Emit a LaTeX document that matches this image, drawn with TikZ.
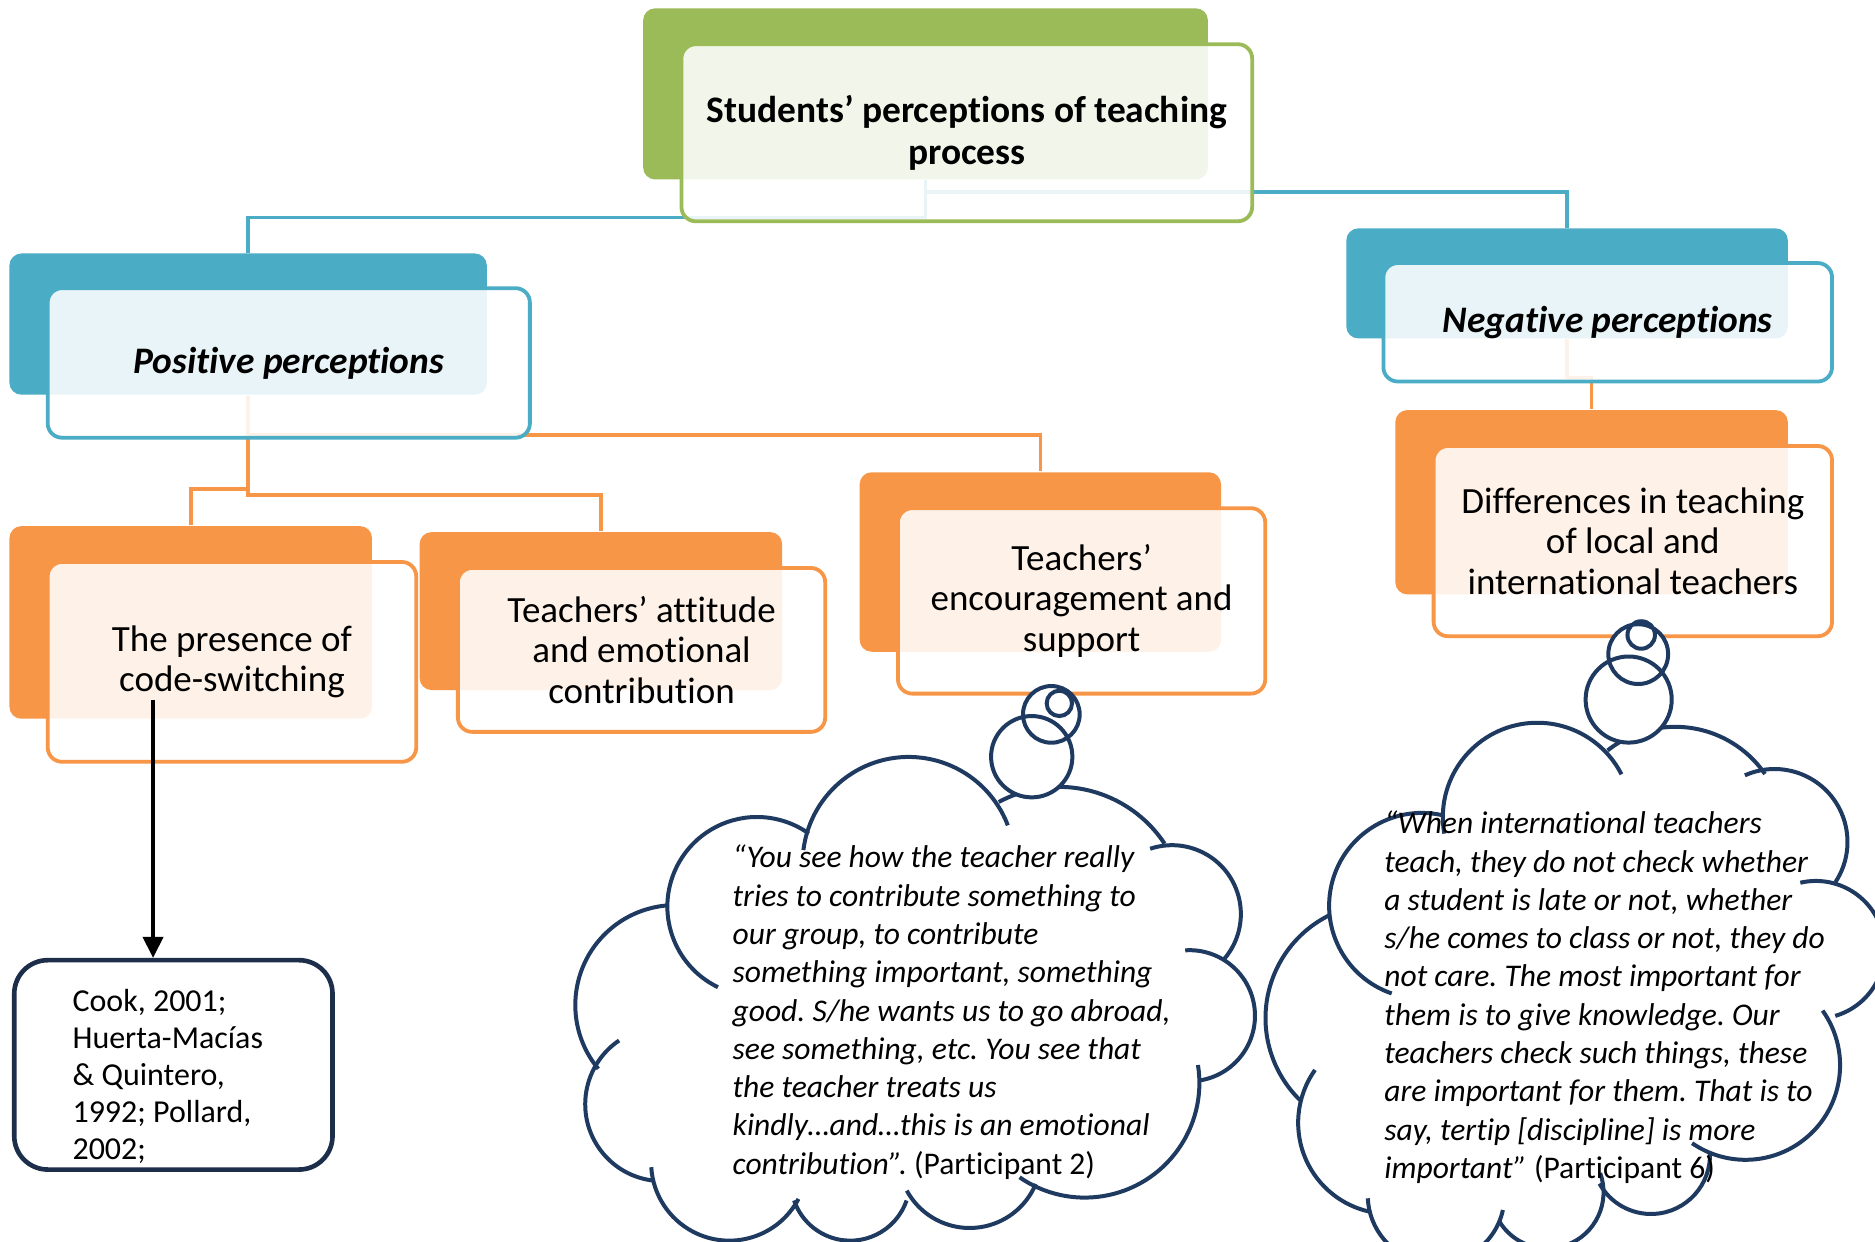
\documentclass[tikz,border=0pt]{standalone}
\usepackage{fontspec}
\setmainfont{Carlito}[Ligatures=NoCommon]
\usetikzlibrary{arrows.meta}
\definecolor{cgreen}{HTML}{9BBB59}
\definecolor{cblue}{HTML}{4BACC6}
\definecolor{corange}{HTML}{F79646}
\definecolor{cnavy}{HTML}{1F3A60}
\definecolor{cdark}{HTML}{1C2E4A}
\pgfdeclarelayer{bg}
\pgfsetlayers{bg,main}
\newcommand\puff[4]{\draw[cloudline] ([shift={(#3:#2)}]#1) arc[start angle=#3,end angle=#4,radius=#2];}
\frenchspacing
\begin{document}
\begin{tikzpicture}[x=0.01cm,y=-0.01cm,
  back/.style={rectangle, rounded corners=0.1cm, fill=#1, draw=none, inner sep=0pt},
  front/.style={rectangle, rounded corners=0.12cm, draw=#1, line width=0.9pt, fill=white, fill opacity=0.88, text opacity=1, inner sep=0pt, align=center, font=\fontsize{8.8pt}{9.7pt}\selectfont},
  link/.style={draw=#1, line width=0.85pt},
  cloudline/.style={draw=cnavy, line width=0.95pt},
  quote/.style={align=left, inner sep=0pt, font=\fontsize{7.5pt}{9.1pt}\selectfont\itshape},
]
\clip (0,0) rectangle (1568,1038);

% back boxes
\node[back=cgreen, minimum width=4.72cm, minimum height=1.43cm] (topb) at (774,78.5) {};
\node[back=cblue, minimum width=3.99cm, minimum height=1.18cm] (posb) at (207.5,271) {};
\node[back=cblue, minimum width=3.69cm, minimum height=0.92cm] (negb) at (1310.5,237) {};
\node[back=corange, minimum width=3.03cm, minimum height=1.61cm] (preb) at (159.5,520.5) {};
\node[back=corange, minimum width=3.03cm, minimum height=1.32cm] (attb) at (502.5,511) {};
\node[back=corange, minimum width=3.02cm, minimum height=1.50cm] (encb) at (870,470) {};
\node[back=corange, minimum width=3.28cm, minimum height=1.54cm] (difb) at (1331,420) {};

% background and connectors (behind)
\begin{pgfonlayer}{bg}
\fill[white] (0,0) rectangle (1568,1038);
\draw[link=cblue] (topb.south) -- ++(0,31) -| (posb.north);
\draw[link=cblue] (topb.south) -- ++(0,10) -| (negb.north);
\draw[link=corange] (posb.south) -- ++(0,78) -| (preb.north);
\draw[link=corange] (posb.south) -- ++(0,83) -| (attb.north);
\draw[link=corange] (posb.south) -- ++(0,33) -| (encb.north);
\draw[link=corange] (negb.south) -- ++(0,32) -| (difb.north);
\end{pgfonlayer}

% front boxes
\node[front=cgreen, minimum width=4.77cm, minimum height=1.48cm, font=\fontsize{8.9pt}{9.96pt}\selectfont\bfseries] (topf) at (808.5,111) {Students’ perceptions of teaching\\process};
\node[front=cblue, minimum width=4.03cm, minimum height=1.25cm, font=\fontsize{8.9pt}{9.96pt}\selectfont\bfseries\itshape] (posf) at (241.5,303.5) {Positive perceptions};
\node[front=cblue, minimum width=3.75cm, minimum height=0.99cm, font=\fontsize{8.9pt}{9.96pt}\selectfont\bfseries\itshape] (negf) at (1344.5,269.5) {Negative perceptions};
\node[front=corange, minimum width=3.08cm, minimum height=1.67cm] (pref) at (194,553.5) {The presence of\\code-switching};
\node[front=corange, minimum width=3.07cm, minimum height=1.37cm] (attf) at (536.5,543.5) {Teachers’ attitude\\and emotional\\contribution};
\node[front=corange, minimum width=3.07cm, minimum height=1.55cm] (encf) at (904.5,502.5) {Teachers’\\encouragement and\\support};
\node[front=corange, minimum width=3.33cm, minimum height=1.59cm] (diff) at (1365.5,452.5) {Differences in teaching\\of local and\\international teachers};

% citation box and arrow
\node[draw=cdark, line width=1.1pt, rounded corners=0.28cm, minimum width=2.66cm, minimum height=1.75cm, inner sep=0pt] (cite) at (145,890.5) {};
\node[anchor=west, align=left, inner sep=0pt, font=\fontsize{7.6pt}{8.8pt}\selectfont] (citetext) at (60,900.5) {Cook, 2001;\\Huerta-Macías\\\& Quintero,\\1992; Pollard,\\2002;};
\coordinate (arrs) at (128,585);
\draw[line width=0.85pt, -{Triangle[width=4.8pt,length=5pt]}] (arrs) -- (arrs |- cite.north);

% cloud 1
\puff{759.9,721.7}{88.7}{187}{339.2}
\puff{885.5,764.0}{106}{241.7}{326.5}
\puff{980.1,764.4}{57.6}{251.5}{400.4}
\puff{994.7,849.4}{54.8}{266.3}{441.5}
\puff{907.1,905.6}{95.9}{-9}{124.6}
\puff{810.9,967.0}{59.9}{22.7}{151.4}
\puff{711.1,987.8}{49.7}{18.9}{161.1}
\puff{609.9,972.1}{65.4}{27.8}{176.5}
\puff{553.7,923.4}{64.3}{96.4}{236}
\puff{564.7,840.5}{83.6}{140.4}{265.5}
\puff{633,758.1}{74.9}{115.8}{305.4}
\fill[white] (862.8,632.8) circle[radius=34] (879.2,597.4) circle[radius=23.7] (885.9,588.2) circle[radius=10.6];
\draw[cloudline] (862.8,632.8) circle[radius=34] (879.2,597.4) circle[radius=23.7] (885.9,588.2) circle[radius=10.6];

% cloud 2
\puff{1285.6,683.4}{79}{170}{333}
\puff{1401.0,698.8}{91}{231.5}{325.5}
\puff{1484.0,704.1}{61}{246}{393.5}
\puff{1518.5,794.3}{57.6}{257}{433.6}
\puff{1459.8,890.9}{79}{-35.4}{124.5}
\puff{1380.7,965.9}{49.3}{-3}{151}
\puff{1294,997}{47}{-20}{150}
\puff{1201,999.5}{57.2}{12.5}{177.4}
\puff{1161.8,938.9}{76.2}{215.4}{102.2}
\puff{1154.3,851.4}{96}{244}{134.4}
\puff{1189.1,757.4}{77.6}{282.3}{109}
\fill[white] (1362,585) circle[radius=36] (1370,547) circle[radius=25] (1372.5,531) circle[radius=11.5];
\draw[cloudline] (1362,585) circle[radius=36] (1370,547) circle[radius=25] (1372.5,531) circle[radius=11.5];

% quotes
\node[quote, anchor=west] (q1) at (612,846.5) {“You see how the teacher really\\tries to contribute something to\\our group, to contribute\\something important, something\\good. S/he wants us to go abroad,\\see something, etc. You see that\\the teacher treats us\\kindly…and…this is an emotional\\contribution”. {\upshape(Participant 2)}};
\node[quote, anchor=west] (q2) at (1157,834) {“When international teachers\\teach, they do not check whether\\a student is late or not, whether\\s/he comes to class or not, they do\\not care. The most important for\\them is to give knowledge. Our\\teachers check such things, these\\are important for them. That is to\\say, tertip [discipline] is more\\important” {\upshape(Participant 6)}};
\end{tikzpicture}
\end{document}
